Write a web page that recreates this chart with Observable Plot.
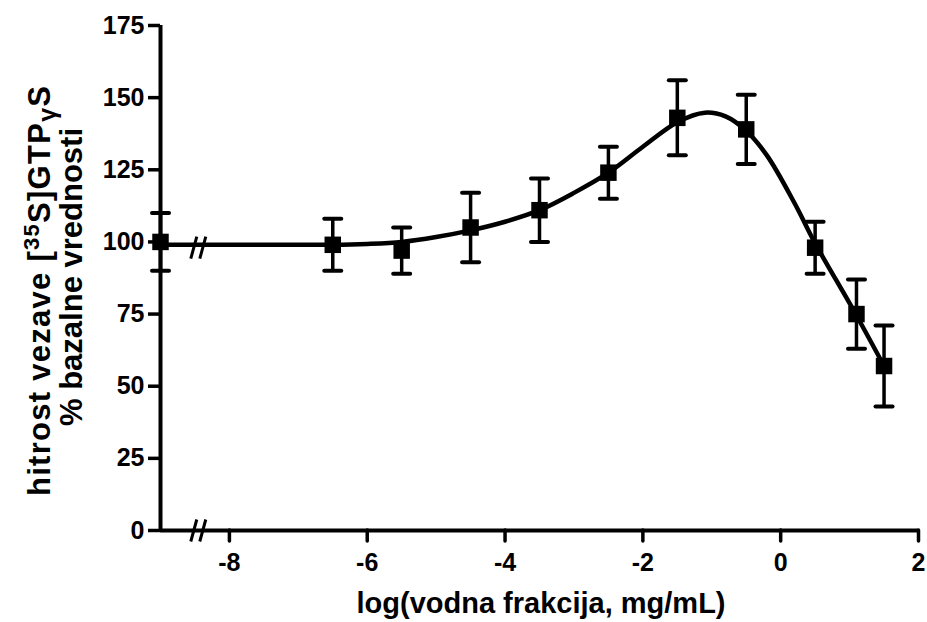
<!DOCTYPE html>
<html>
<head>
<meta charset="utf-8">
<script src="https://cdn.jsdelivr.net/npm/d3@7"></script>
<script src="https://cdn.jsdelivr.net/npm/@observablehq/plot@0.6"></script>
<style>
  body { margin: 0; background: #fff; }
  svg { display: block; }
</style>
</head>
<body>
<div id="chart"></div>
<script>
// Measured binding (mean ± error) per log concentration; -9 is the basal control
const logConc     = [-9, -6.5, -5.5, -4.5, -3.5, -2.5, -1.5, -0.5, 0.5, 1.1, 1.5];
const meanBinding = [100, 99, 97, 105, 111, 124, 143, 139, 98, 75, 57];
const errBinding  = [10, 9, 8, 12, 11, 9, 13, 12, 9, 12, 14];

// Fitted bell-shaped curve, sampled
const fitX = [-9, -8, -7, -6.5, -6, -5.5, -5, -4.5, -4, -3.5, -3, -2.5, -2, -1.5, -1.1, -0.8, -0.5, -0.2, 0.2, 0.5, 0.8, 1.1, 1.5];
const fitY = [99, 99, 99, 99, 99.3, 100, 101.7, 104, 107, 111, 117, 124, 133, 141.5, 144.8, 143.5, 138.5, 130, 113.5, 99.5, 87, 74.5, 57];

// Axis ticks
const xTicks = [-8, -6, -4, -2, 0, 2];
const yTicks = [0, 25, 50, 75, 100, 125, 150, 175];

// Axis-break marks (log value and response where the "//" sits)
const breakX = [-8.43, -8.43];
const breakY = [0, 98];

const points = logConc.map((x, i) => ({
  x, y: meanBinding[i], lo: meanBinding[i] - errBinding[i], hi: meanBinding[i] + errBinding[i]
}));
const fit = fitX.map((x, i) => ({x, y: fitY[i]}));
const breaks = breakX.map((x, i) => ({x, y: breakY[i]}));

// Horizontal cap for error bars
const capSymbol = {
  draw(ctx) { ctx.moveTo(-8.5, 0); ctx.lineTo(8.5, 0); }
};
// Double slash used as an axis break
const breakSymbol = {
  draw(ctx) {
    ctx.moveTo(-9, 11); ctx.lineTo(-3, -11);
    ctx.moveTo(0, 11); ctx.lineTo(6, -11);
  }
};

const font = "'Liberation Sans', Arial, sans-serif";

const chart = Plot.plot({
  width: 927,
  height: 622,
  marginLeft: 160,
  marginRight: 9,
  marginTop: 25,
  marginBottom: 92,
  style: {fontFamily: font, fontWeight: "bold", fontSize: "25px", color: "#000", background: "#fff"},
  x: {domain: [-9, 2]},
  y: {domain: [0, 175]},
  marks: [
    Plot.axisY({ticks: yTicks, tickSize: 12, tickPadding: 4, strokeWidth: 3.5, tickFormat: d => String(d),
                label: null, fontSize: 25}),
    Plot.axisX({ticks: xTicks, tickSize: 11, tickPadding: 12, strokeWidth: 3.5, strokeLinecap: "round",
                tickFormat: d => String(d), label: null, fontSize: 25}),
    Plot.ruleX([-9], {strokeWidth: 4}),
    Plot.ruleY([0], {strokeWidth: 4}),
    Plot.line(fit, {x: "x", y: "y", curve: "catmull-rom", strokeWidth: 4.5, stroke: "#000"}),
    Plot.ruleX(points, {x: "x", y1: "lo", y2: "hi", strokeWidth: 3.5, stroke: "#000"}),
    Plot.dot(points, {x: "x", y: "hi", symbol: capSymbol, stroke: "#000", strokeWidth: 4, strokeLinecap: "round"}),
    Plot.dot(points, {x: "x", y: "lo", symbol: capSymbol, stroke: "#000", strokeWidth: 4, strokeLinecap: "round"}),
    Plot.dot(points, {x: "x", y: "y", symbol: "square", r: 9.3, fill: "#000", stroke: "none"}),
    Plot.dot(breaks, {x: "x", y: "y", symbol: breakSymbol, stroke: "#000", strokeWidth: 3})
  ]
});

document.getElementById("chart").appendChild(chart);

const svg = d3.select(chart);

// Tick labels: large bold digits
svg.selectAll("text")
  .attr("font-size", 25)
  .style("font-size", "25px")
  .style("font-weight", "bold")
  .style("font-family", font);

// X axis title
svg.append("text")
  .attr("x", 541)
  .attr("y", 613)
  .attr("text-anchor", "middle")
  .attr("font-family", font)
  .attr("font-weight", "bold")
  .attr("font-size", 29)
  .text("log(vodna frakcija, mg/mL)");

// Y axis title, two lines with superscript and subscript
const yTitle = svg.append("g")
  .attr("transform", "rotate(-90)")
  .attr("font-family", font)
  .attr("font-weight", "bold")
  .attr("font-size", 31)
  .attr("text-anchor", "middle");

const line1 = yTitle.append("text").attr("x", -291).attr("y", 50)
  .attr("textLength", 410).attr("lengthAdjust", "spacing");
line1.append("tspan").text("hitrost vezave [");
line1.append("tspan").attr("dy", -11).attr("font-size", 22).text("35");
line1.append("tspan").attr("dy", 11).text("S]GTP");
line1.append("tspan").attr("dy", 6).attr("font-size", 25).text("γ");
line1.append("tspan").attr("dy", -6).text("S");

yTitle.append("text").attr("x", -277).attr("y", 82).text("% bazalne vrednosti");
</script>
</body>
</html>
